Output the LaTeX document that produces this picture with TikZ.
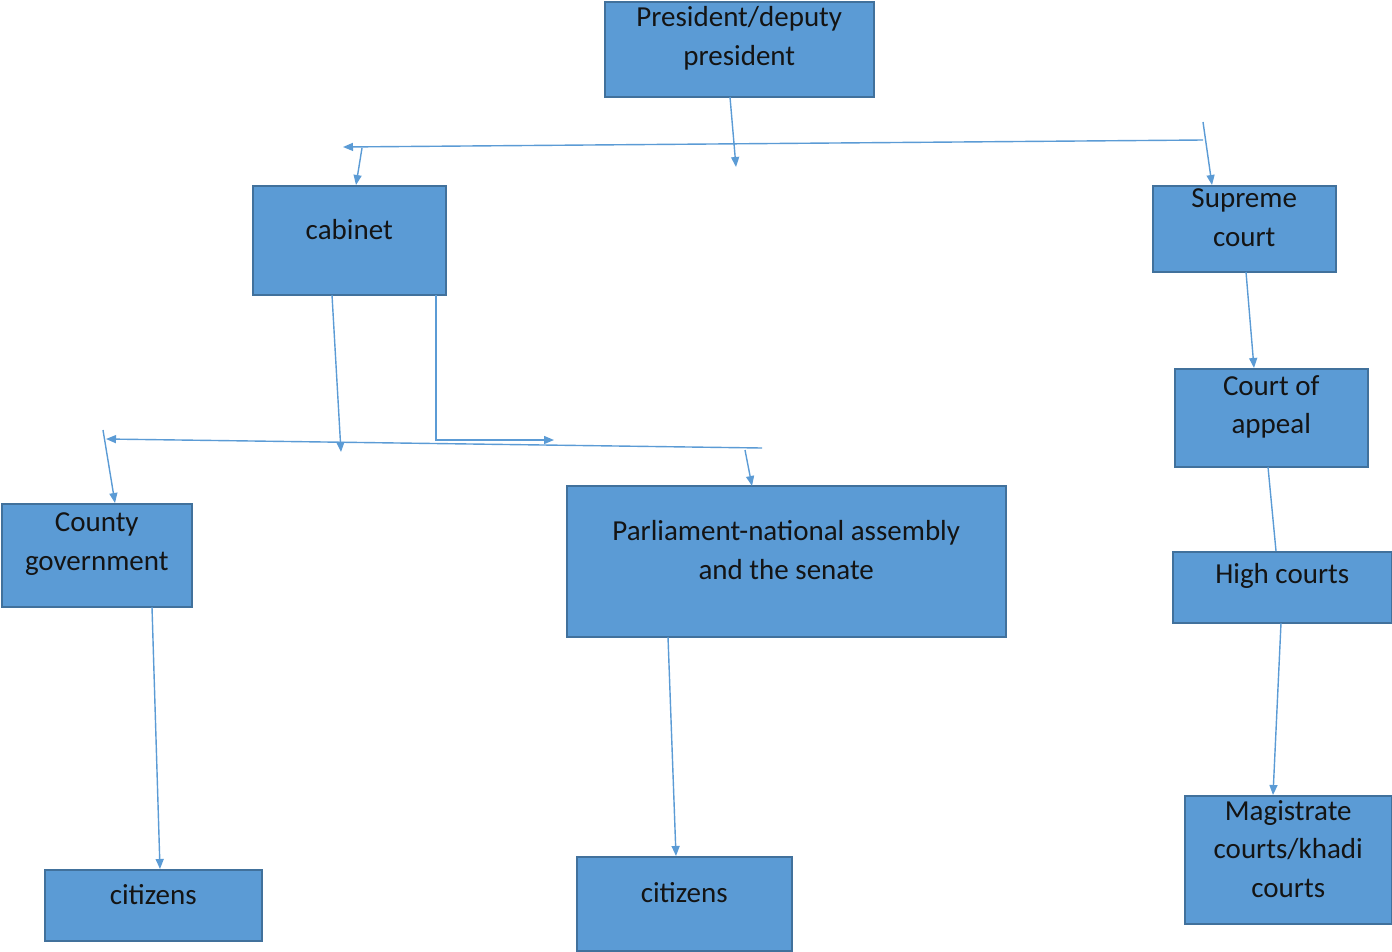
\documentclass[tikz,border=0pt]{standalone}
\usepackage{fontspec}
\setmainfont{Carlito}
\usetikzlibrary{arrows.meta}
\definecolor{boxfill}{HTML}{5B9BD5}
\definecolor{boxline}{HTML}{41719C}
\definecolor{conncol}{HTML}{5B9BD5}
\tikzset{
  box/.style={draw=boxline, fill=boxfill, line width=1.5pt, inner sep=0pt, anchor=north west},
  txt/.style={align=center, font=\fontsize{29}{38.5}\selectfont, text=black!92, yshift=11pt, inner sep=0pt},
  conn/.style={draw=conncol, line width=1.4pt},
  arr/.style={conn, -{Triangle[length=10pt,width=8pt]}}
}
\newcommand\orgbox[6]{\node[box, minimum width={#4-#2}, minimum height={#5-#3}, label={[txt]center:{#6}}] (#1) at (#2,#3) {};}
\begin{document}
\begin{tikzpicture}[x=1pt,y=-1pt]
\useasboundingbox (0,0) rectangle (1392,951);
\orgbox{pres}{604}{1}{873}{96}{President/deputy\\president}
\orgbox{cab}{252}{185}{445}{294}{cabinet}
\orgbox{sup}{1152}{185}{1335}{271}{Supreme\\court}
\orgbox{coa}{1174}{368}{1367}{466}{Court of\\appeal}
\orgbox{high}{1172}{551}{1391}{622}{High courts}
\orgbox{mag}{1184}{795}{1391}{923}{Magistrate\\courts/khadi\\courts}
\orgbox{county}{1}{503}{191}{606}{County\\government}
\orgbox{parl}{566}{485}{1005}{636}{Parliament-national assembly\\and the senate}
\orgbox{cit1}{44}{869}{261}{940}{citizens}
\orgbox{cit2}{576}{856}{791}{950}{citizens}

% top branch
\coordinate (pS) at (730,97); \coordinate (pE) at (736,167);
\draw[arr] (pS) -- (pE);
\coordinate (tR) at (1203,140); \coordinate (tL) at (343,147);
\draw[arr] (tR) -- (tL);
\coordinate (sT) at (1203,122); \coordinate (sB) at (1212,185);
\draw[arr] (sT) -- (sB);
\coordinate (cT) at (362,148); \coordinate (cB) at (356,185);
\draw[arr] (cT) -- (cB);

% cabinet branch
\coordinate (kS) at (332,295); \coordinate (kE) at (341,452);
\draw[arr] (kS) -- (kE);
\coordinate (kS2) at (436,295); \coordinate (kE2) at (554,440);
\draw[arr] (kS2) |- (kE2);
\coordinate (hR) at (762,448); \coordinate (hL) at (106,439);
\draw[arr] (hR) -- (hL);
\coordinate (gT) at (103,430); \coordinate (gB) at (115,503);
\draw[arr] (gT) -- (gB);
\coordinate (qT) at (745,450); \coordinate (qB) at (752,486);
\draw[arr] (qT) -- (qB);

% courts
\coordinate (a1) at (1246,272); \coordinate (a2) at (1254,368);
\draw[arr] (a1) -- (a2);
\coordinate (b1) at (1268,467); \coordinate (b2) at (1276,551);
\draw[conn] (b1) -- (b2);
\coordinate (c1) at (1281,623); \coordinate (c2) at (1273,795);
\draw[arr] (c1) -- (c2);

% citizens
\coordinate (d1) at (152,607); \coordinate (d2) at (160,869);
\draw[arr] (d1) -- (d2);
\coordinate (e1) at (668,637); \coordinate (e2) at (676,856);
\draw[arr] (e1) -- (e2);
\end{tikzpicture}
\end{document}
